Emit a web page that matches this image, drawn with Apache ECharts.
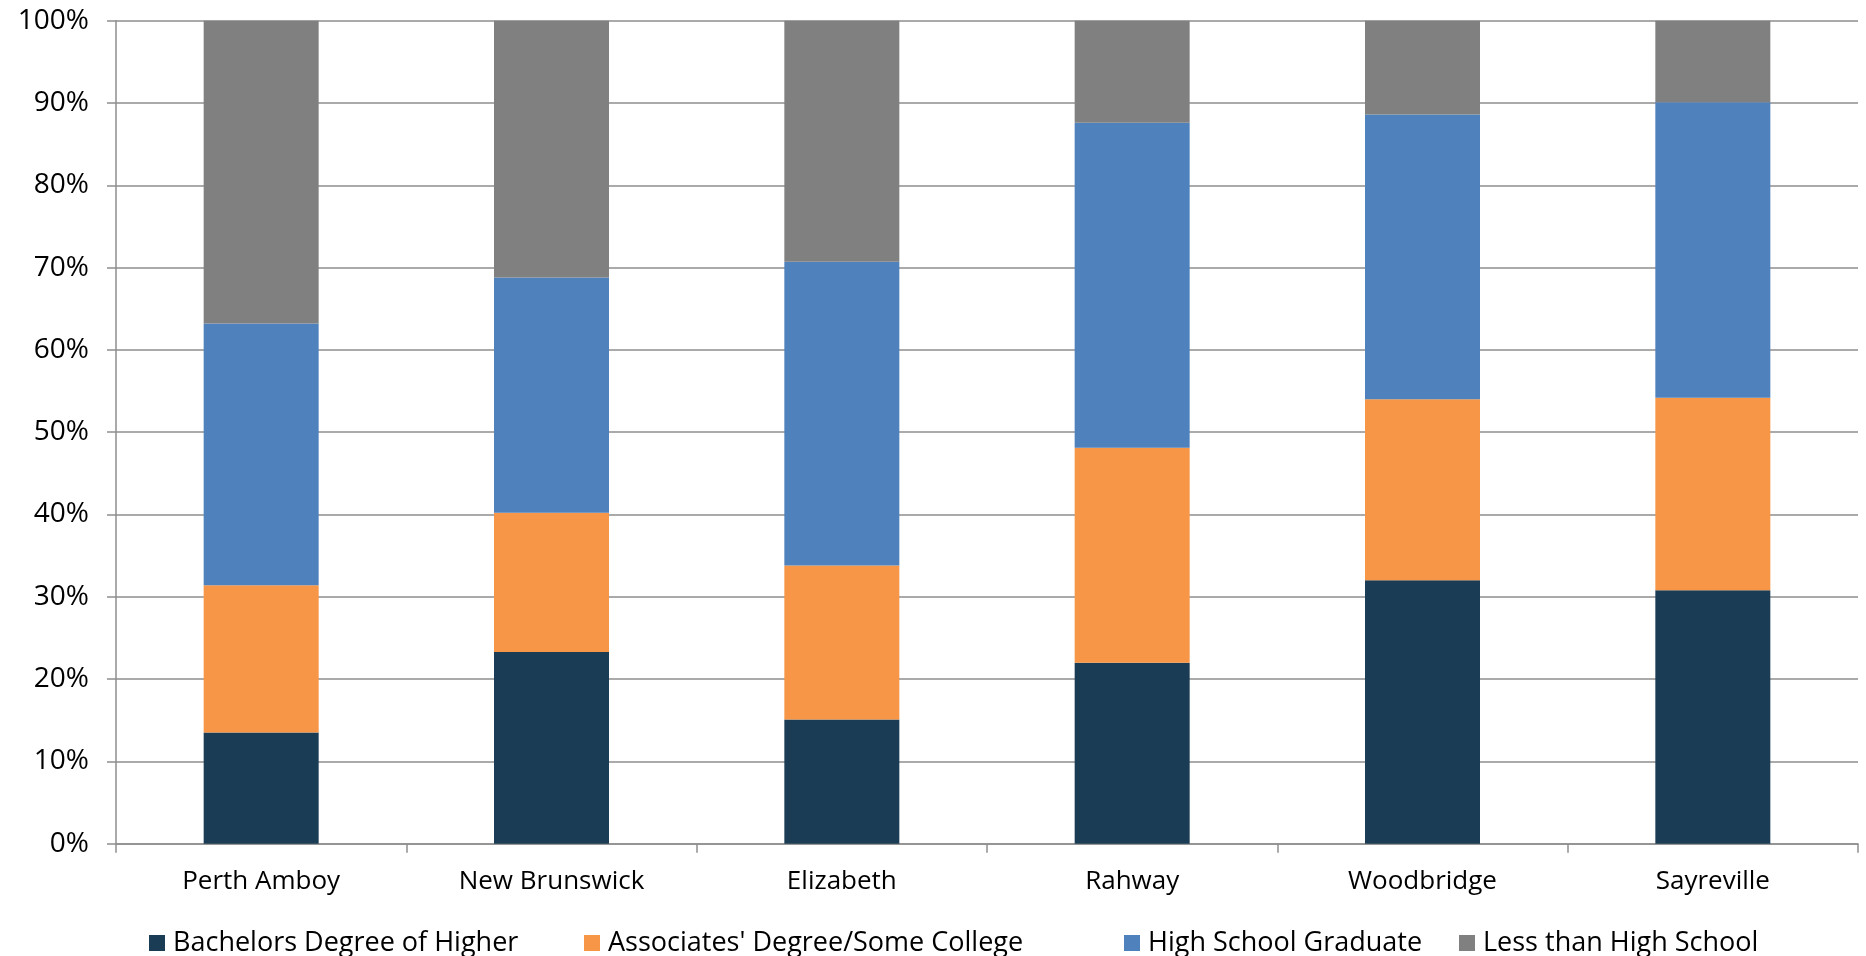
<!DOCTYPE html>
<html>
<head>
<meta charset="utf-8">
<script src="https://cdn.jsdelivr.net/npm/echarts@6/dist/echarts.min.js"></script>
<style>
html,body{margin:0;padding:0;background:#fff;}
#chart{width:1866px;height:956px;}
</style>
</head>
<body>
<div id="chart"></div>
<script>
const categories = ['Perth Amboy', 'New Brunswick', 'Elizabeth', 'Rahway', 'Woodbridge', 'Sayreville'];
const seriesNames = ['Bachelors Degree of Higher', "Associates' Degree/Some College", 'High School Graduate', 'Less than High School'];
const bachelors = [13.5, 23.3, 15.1, 22.0, 32.0, 30.8];
const associates = [17.9, 16.9, 18.7, 26.1, 22.0, 23.4];
const highSchool = [31.8, 28.6, 36.9, 39.5, 34.6, 35.9];
const lessThanHS = [36.8, 31.2, 29.3, 12.4, 11.4, 9.9];
const colors = ['#1B3C55', '#F79646', '#4F81BD', '#808080'];

const font = '"Open Sans", "Noto Sans", sans-serif';
const gridColor = '#8E8E8E';
const legendLefts = [144, 579, 1119, 1454];
const chart = echarts.init(document.getElementById('chart'), null, {renderer: 'canvas'});
const values = [bachelors, associates, highSchool, lessThanHS];
chart.setOption({
  animation: false,
  color: colors,
  grid: {left: 116, right: 8, top: 20.7, bottom: 112.3, containLabel: false},
  legend: seriesNames.map((name, i) => ({
    data: [name],
    left: legendLefts[i],
    top: 922,
    itemWidth: 16,
    itemHeight: 16,
    icon: 'rect',
    textStyle: {fontFamily: font, fontSize: 27, color: '#000', padding: [0, 0, 0, 3], lineHeight: 32}
  })),
  xAxis: {
    type: 'category',
    data: categories,
    axisLine: {lineStyle: {color: gridColor, width: 1.5}},
    axisTick: {show: true, length: 9, lineStyle: {color: gridColor, width: 1.5}},
    axisLabel: {fontFamily: font, fontSize: 26, color: '#000', margin: 25}
  },
  yAxis: {
    type: 'value',
    min: 0, max: 100, interval: 10,
    axisLine: {show: true, lineStyle: {color: gridColor, width: 1.5}},
    axisTick: {show: true, length: 9, lineStyle: {color: gridColor, width: 1.5}},
    splitLine: {show: true, lineStyle: {color: gridColor, width: 1.5}},
    axisLabel: {fontFamily: font, fontSize: 28, color: '#000', margin: 27, formatter: '{value}%'}
  },
  series: seriesNames.map((name, i) => ({
    name: name,
    type: 'bar',
    stack: 'total',
    barWidth: 115,
    data: values[i],
    itemStyle: {color: colors[i]}
  }))
});
</script>
</body>
</html>
